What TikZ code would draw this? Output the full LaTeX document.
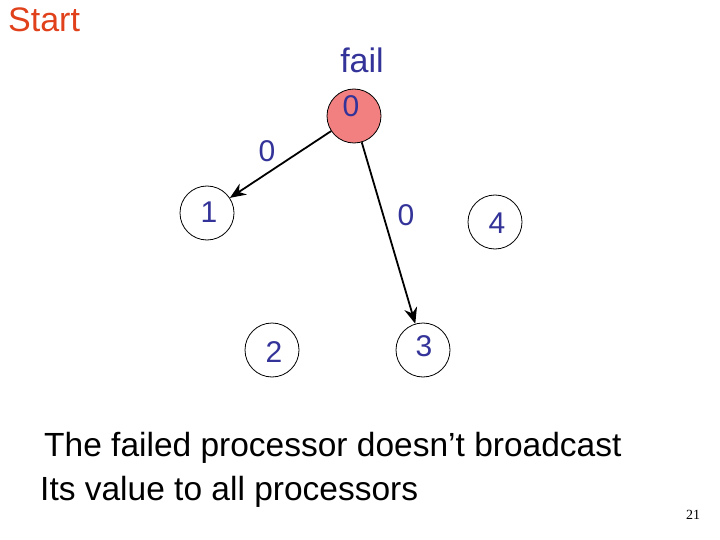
\documentclass[tikz,border=0pt]{standalone}
\usepackage{fontspec}
\setmainfont{Liberation Sans}
\newfontfamily\pagefont{Liberation Serif}
\usetikzlibrary{arrows.meta}
\definecolor{txtblue}{RGB}{51,51,153}
\definecolor{startred}{RGB}{224,64,26}
\definecolor{failfill}{RGB}{242,128,128}
\tikzset{
  proc/.style={circle, draw=black, line width=0.8pt, minimum size=54pt, inner sep=0pt},
  dig/.style={text=txtblue, font=\fontsize{30}{34}\selectfont, inner sep=0pt},
  msg/.style={line width=1.8pt, -{Stealth[length=16pt,width=13pt]}},
  body/.style={text=black, font=\fontsize{33.5}{38}\selectfont, inner sep=0pt, anchor=base west}
}
\begin{document}
\begin{tikzpicture}[x=1pt,y=-1pt]
\useasboundingbox (0,0) rectangle (720,540);
\node[text=startred, font=\fontsize{34}{38}\selectfont, inner sep=0pt, anchor=base west] (start) at (8,32) {Start};
\node[dig, font=\fontsize{34}{38}\selectfont] (fail) at (362,60) {fail};
% processors
\node[proc, fill=failfill] (p0) at (354,116) {};
\node[proc] (p1) at (207,213) {};
\node[proc] (p2) at (272,350) {};
\node[proc] (p3) at (423,350) {};
\node[proc] (p4) at (495,222) {};
\node[dig] (t0) at (351,106) {0};
\node[dig] (t1) at (209,212) {1};
\node[dig] (t2) at (274,352) {2};
\node[dig] (t3) at (424,346) {3};
\node[dig] (t4) at (497,223) {4};
% messages
\draw[msg] (p0) -- (p1);
\draw[msg] (p0) -- (p3);
\node[dig] (l1) at (267,151) {0};
\node[dig] (l2) at (406,215) {0};
% caption
\node[body] (c1) at (44,456) {The failed processor doesn’t broadcast};
\node[body] (c2) at (40,500) {Its value to all processors};
\node[font=\pagefont\fontsize{14}{16}\selectfont, inner sep=0pt] (pg) at (693,515) {21};
\end{tikzpicture}
\end{document}
